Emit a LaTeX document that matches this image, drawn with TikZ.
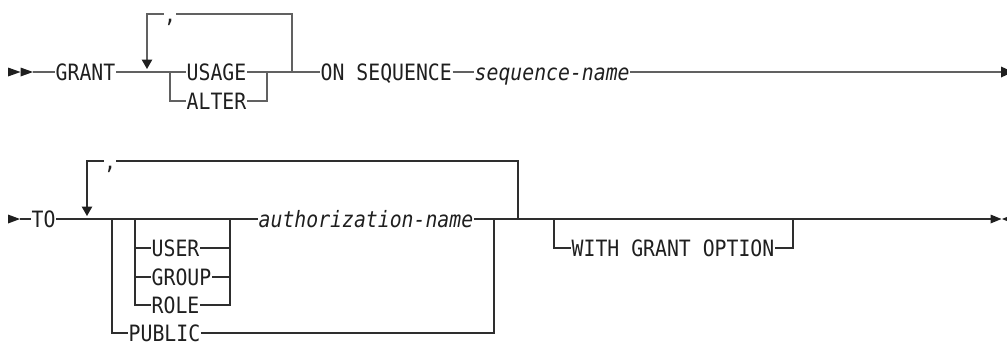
\documentclass[tikz,border=0pt]{standalone}
\usepackage{fontspec}
\newfontfamily\dmono[FakeStretch=0.88]{DejaVu Sans Mono}
\usetikzlibrary{arrows.meta}
\tikzset{
  kw/.style={font=\dmono\fontsize{22.5}{23}\selectfont, text=black!88, inner xsep=0.5pt, inner ysep=0pt,
    text height=16.4pt, text depth=0pt, anchor=west},
  var/.style={kw, font=\dmono\itshape\fontsize{22.5}{23}\selectfont},
  sep/.style={kw, inner xsep=0pt, anchor=center},
  lnA/.style={line width=1.3pt, draw=black!62},
  lnB/.style={line width=1.3pt, draw=black!82},
  loopA/.style={lnA, -{Triangle[width=10.5pt,length=9.5pt,color=black!88]}},
  loopB/.style={lnB, -{Triangle[width=10.5pt,length=9.5pt,color=black!88]}},
  tipfill/.style={fill=black!88},
}
\begin{document}
\begin{tikzpicture}[x=1pt,y=-1pt]
\useasboundingbox (0,0) rectangle (1007,341);
\clip (0,0) rectangle (1007,341);

% ---------- Row 1 ----------
\fill[tipfill] (8,67.5) -- (20.5,72) -- (8,76.5) -- cycle;
\fill[tipfill] (20.5,67.5) -- (33,72) -- (20.5,76.5) -- cycle;
\coordinate (s1) at (33,72);
\node[kw] (grant) at (55,72) {GRANT};
\node[kw] (usage) at (186,72) {USAGE};
\node[kw] (alter) at (186,101) {ALTER};
\node[kw] (onseq) at (320,72) {ON SEQUENCE};
\node[var] (seqname) at (474,72) {sequence-name};
\node[sep] (c1) at (170,14) {,};
\coordinate (j1) at (170,72);
\coordinate (k1) at (267,72);
\coordinate (r1) at (292,72);
\coordinate (a1) at (147,69);
\coordinate (e1) at (1001,72);

\draw[lnA] (s1) -- (grant.west);
\draw[lnA] (grant.east) -- (j1) -- (usage.west);
\draw[lnA] (j1) |- (alter.west);
\draw[lnA] (usage.east) -- (r1) -- (onseq.west);
\draw[lnA] (alter.east) -| (k1);
\draw[lnA] (r1) |- (c1.east);
\draw[loopA] (c1.west) -| (a1);
\draw[lnA] (onseq.east) -- (seqname.west);
\draw[lnA] (seqname.east) -- (e1);
\fill[tipfill] (1001,66.5) -- (1013,72) -- (1001,77.5) -- cycle;

% ---------- Row 2 ----------
\fill[tipfill] (8,214.5) -- (20,219) -- (8,223.5) -- cycle;
\coordinate (s2) at (20,219);
\node[kw] (to) at (31,219) {TO};
\node[kw] (user) at (151,248) {USER};
\node[kw] (group) at (151,277) {GROUP};
\node[kw] (role) at (151,305) {ROLE};
\node[var] (auth) at (258,219) {authorization-name};
\node[kw] (public) at (128,333) {PUBLIC};
\node[kw] (wgo) at (571,248) {WITH GRANT OPTION};
\node[sep] (c2) at (110,161) {,};
\coordinate (j2) at (112,219);
\coordinate (j3) at (135,219);
\coordinate (j4) at (230,219);
\coordinate (k2) at (494,219);
\coordinate (r2) at (518,219);
\coordinate (o1) at (554,219);
\coordinate (o2) at (793,219);
\coordinate (a2) at (87,216);
\coordinate (e2) at (990.5,219);

\draw[lnB] (s2) -- (to.west);
\draw[lnB] (to.east) -- (j2) -- (j3) -- (j4) -- (auth.west);
\draw[lnB] (j3) |- (user.west);
\draw[lnB] (j3) |- (group.west);
\draw[lnB] (j3) |- (role.west);
\draw[lnB] (user.east) -| (j4);
\draw[lnB] (group.east) -| (j4);
\draw[lnB] (role.east) -| (j4);
\draw[lnB] (j2) |- (public.west);
\draw[lnB] (public.east) -| (k2);
\draw[lnB] (auth.east) -- (k2) -- (r2) -- (o1) -- (o2) -- (e2);
\draw[lnB] (r2) |- (c2.east);
\draw[loopB] (c2.west) -| (a2);
\draw[lnB] (o1) |- (wgo.west);
\draw[lnB] (wgo.east) -| (o2);
\fill[tipfill] (990.5,214.5) -- (1001.5,219) -- (990.5,223.5) -- cycle;
\fill[tipfill] (1013,214.5) -- (1002,219) -- (1013,223.5) -- cycle;
\end{tikzpicture}
\end{document}
